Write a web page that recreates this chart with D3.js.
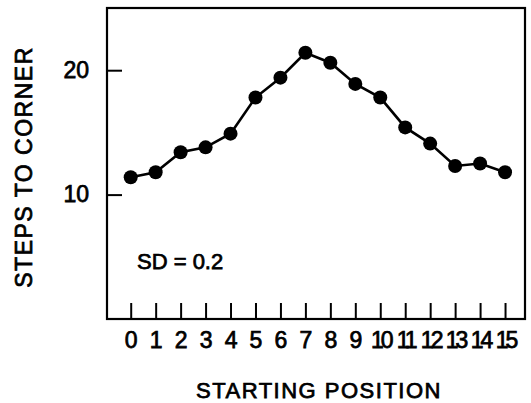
<!DOCTYPE html>
<html>
<head>
<meta charset="utf-8">
<script src="https://cdn.jsdelivr.net/npm/d3@7"></script>
<style>
  body { margin: 0; background: #fff; }
  text { font-family: "Liberation Sans", Arial, sans-serif; fill: #000; stroke: #000; stroke-width: 0.75px; }
</style>
</head>
<body>
<div id="chart"></div>
<script>
// steps to corner vs starting position
var positions = [0, 1, 2, 3, 4, 5, 6, 7, 8, 9, 10, 11, 12, 13, 14, 15];
var steps = [11.4, 11.8, 13.4, 13.8, 14.9, 17.8, 19.4, 21.4, 20.6, 18.9, 17.8, 15.4, 14.1, 12.3, 12.5, 11.8];
var yTicks = [10, 20];

var svgWidth = 531;
var svgHeight = 403;

var margin = { top: 8, right: 6, bottom: 84, left: 107 };
var width = svgWidth - margin.left - margin.right;
var height = svgHeight - margin.top - margin.bottom;

var svg = d3.select("#chart")
  .append("svg")
  .attr("width", svgWidth)
  .attr("height", svgHeight);

var chartGroup = svg.append("g")
  .attr("transform", `translate(${margin.left}, ${margin.top})`);

var xScale = d3.scaleLinear()
  .domain([-0.95, 15.8])
  .range([0, width]);

var yScale = d3.scaleLinear()
  .domain([0, 25])
  .range([height, 0]);

// frame
chartGroup.append("rect")
  .attr("x", 0).attr("y", 0)
  .attr("width", width).attr("height", height)
  .attr("fill", "none")
  .attr("stroke", "#000")
  .attr("stroke-width", 2.2);

// x ticks pointing up, labels below
var bottomAxis = d3.axisBottom(xScale)
  .tickValues(positions)
  .tickSizeInner(-16)
  .tickSizeOuter(0)
  .tickPadding(13);

var xAxis = chartGroup.append("g")
  .attr("transform", `translate(0, ${height})`)
  .call(bottomAxis);
xAxis.select(".domain").remove();
xAxis.selectAll("line").attr("stroke-width", 2);
xAxis.selectAll("text")
  .style("font-size", "23px")
  .attr("letter-spacing", d => d >= 10 ? "-3px" : "0px");

// y ticks pointing in, labels left
var leftAxis = d3.axisLeft(yScale)
  .tickValues(yTicks)
  .tickSizeInner(-15)
  .tickSizeOuter(0)
  .tickPadding(18);

var yAxis = chartGroup.append("g").call(leftAxis);
yAxis.select(".domain").remove();
yAxis.selectAll("line").attr("stroke-width", 2);
yAxis.selectAll("text").style("font-size", "23px");

// line + markers
var line = d3.line()
  .x((d, i) => xScale(positions[i]))
  .y(d => yScale(d));

chartGroup.append("path")
  .datum(steps)
  .attr("d", line)
  .attr("fill", "none")
  .attr("stroke", "#000")
  .attr("stroke-width", 2.6);

chartGroup.selectAll("circle")
  .data(steps)
  .enter()
  .append("circle")
  .attr("cx", (d, i) => xScale(positions[i]))
  .attr("cy", d => yScale(d))
  .attr("r", 7)
  .attr("fill", "#000");

// annotation
chartGroup.append("text")
  .attr("x", 30)
  .attr("y", 261)
  .style("font-size", "22px")
  .text("SD = 0.2");

// axis labels
svg.append("text")
  .attr("x", 319)
  .attr("y", 398)
  .attr("text-anchor", "middle")
  .attr("letter-spacing", "1.5px")
  .style("font-size", "22px")
  .text("STARTING POSITION");

svg.append("text")
  .attr("transform", "rotate(-90)")
  .attr("x", -167)
  .attr("y", 32)
  .attr("text-anchor", "middle")
  .attr("letter-spacing", "1.5px")
  .style("font-size", "23px")
  .text("STEPS TO CORNER");
</script>
</body>
</html>
